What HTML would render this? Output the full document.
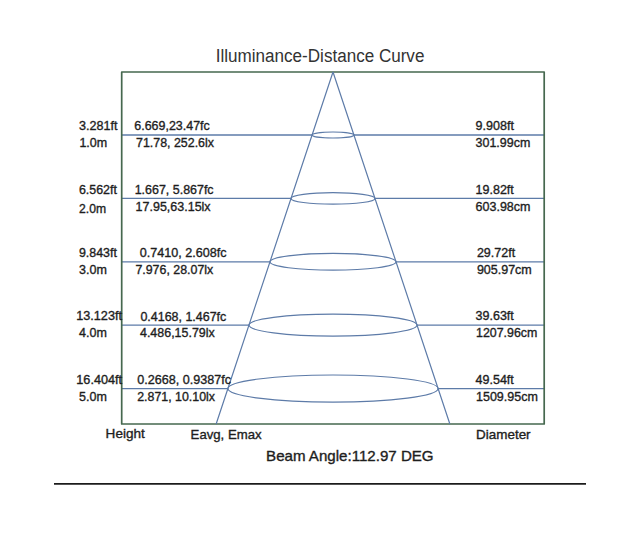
<!DOCTYPE html>
<html><head><meta charset="utf-8"><style>
html,body{margin:0;padding:0;background:#fff;width:640px;height:533px;overflow:hidden}
svg{display:block}
text{font-family:"Liberation Sans",sans-serif;stroke:#1e1e1e;stroke-width:0.35px}
</style></head><body>
<svg width="640" height="533" viewBox="0 0 640 533">
<rect x="0" y="0" width="640" height="533" fill="#fff"/>
<text x="215.8" y="61.9" font-size="18" fill="#333" style="stroke:none" textLength="208.6" lengthAdjust="spacingAndGlyphs">Illuminance-Distance Curve</text>
<line x1="122" y1="135.0" x2="312.08" y2="135.0" stroke="#5d7ba8" stroke-width="1.3"/>
<line x1="353.92" y1="135.0" x2="544" y2="135.0" stroke="#5d7ba8" stroke-width="1.3"/>
<line x1="122" y1="198.4" x2="291.04" y2="198.4" stroke="#5d7ba8" stroke-width="1.3"/>
<line x1="374.96" y1="198.4" x2="544" y2="198.4" stroke="#5d7ba8" stroke-width="1.3"/>
<line x1="122" y1="261.8" x2="269.99" y2="261.8" stroke="#5d7ba8" stroke-width="1.3"/>
<line x1="396.01" y1="261.8" x2="544" y2="261.8" stroke="#5d7ba8" stroke-width="1.3"/>
<line x1="122" y1="325.1" x2="248.97" y2="325.1" stroke="#5d7ba8" stroke-width="1.3"/>
<line x1="417.03" y1="325.1" x2="544" y2="325.1" stroke="#5d7ba8" stroke-width="1.3"/>
<line x1="122" y1="388.6" x2="227.89" y2="388.6" stroke="#5d7ba8" stroke-width="1.3"/>
<line x1="438.11" y1="388.6" x2="544" y2="388.6" stroke="#5d7ba8" stroke-width="1.3"/>
<ellipse cx="333" cy="135.0" rx="20.92" ry="3.0" fill="none" stroke="#5d7ba8" stroke-width="1.2"/>
<ellipse cx="333" cy="198.4" rx="41.96" ry="5.8" fill="none" stroke="#5d7ba8" stroke-width="1.2"/>
<ellipse cx="333" cy="261.8" rx="63.01" ry="8.4" fill="none" stroke="#5d7ba8" stroke-width="1.2"/>
<ellipse cx="333" cy="325.1" rx="84.03" ry="11.0" fill="none" stroke="#5d7ba8" stroke-width="1.2"/>
<ellipse cx="333" cy="388.6" rx="105.11" ry="13.6" fill="none" stroke="#5d7ba8" stroke-width="1.2"/>
<rect x="121.7" y="72" width="422.5" height="352" fill="none" stroke="#46684f" stroke-width="1.7" stroke-linejoin="round"/>
<polyline points="216.14,424 333,72 449.86,424" fill="none" stroke="#5d7ba8" stroke-width="1.2" stroke-linejoin="bevel"/>
<text x="79.0" y="129.95" font-size="12.5" fill="#1e1e1e" textLength="38.5" lengthAdjust="spacingAndGlyphs">3.281ft</text>
<text x="79.4" y="146.95" font-size="12.5" fill="#1e1e1e">1.0m</text>
<text x="134.3" y="129.65" font-size="12.5" fill="#1e1e1e" textLength="75.5" lengthAdjust="spacingAndGlyphs">6.669,23.47fc</text>
<text x="136.0" y="147.35" font-size="12.5" fill="#1e1e1e" textLength="78.0" lengthAdjust="spacingAndGlyphs">71.78, 252.6lx</text>
<text x="475.6" y="130.35" font-size="12.5" fill="#1e1e1e" textLength="38.3" lengthAdjust="spacingAndGlyphs">9.908ft</text>
<text x="475.6" y="147.25" font-size="12.5" fill="#1e1e1e" textLength="54.7" lengthAdjust="spacingAndGlyphs">301.99cm</text>
<text x="78.9" y="193.65" font-size="12.5" fill="#1e1e1e" textLength="38.0" lengthAdjust="spacingAndGlyphs">6.562ft</text>
<text x="79.1" y="213.35" font-size="12.5" fill="#1e1e1e" textLength="27.0" lengthAdjust="spacingAndGlyphs">2.0m</text>
<text x="134.7" y="193.75" font-size="12.5" fill="#1e1e1e" textLength="78.9" lengthAdjust="spacingAndGlyphs">1.667, 5.867fc</text>
<text x="135.6" y="210.55" font-size="12.5" fill="#1e1e1e" textLength="75.0" lengthAdjust="spacingAndGlyphs">17.95,63.15lx</text>
<text x="475.6" y="193.65" font-size="12.5" fill="#1e1e1e">19.82ft</text>
<text x="475.6" y="210.55" font-size="12.5" fill="#1e1e1e">603.98cm</text>
<text x="78.9" y="257.05" font-size="12.5" fill="#1e1e1e" textLength="38.0" lengthAdjust="spacingAndGlyphs">9.843ft</text>
<text x="79.1" y="273.95" font-size="12.5" fill="#1e1e1e">3.0m</text>
<text x="139.8" y="257.05" font-size="12.5" fill="#1e1e1e" textLength="86.8" lengthAdjust="spacingAndGlyphs">0.7410, 2.608fc</text>
<text x="135.4" y="273.95" font-size="12.5" fill="#1e1e1e" textLength="77.9" lengthAdjust="spacingAndGlyphs">7.976, 28.07lx</text>
<text x="476.9" y="257.05" font-size="12.5" fill="#1e1e1e">29.72ft</text>
<text x="476.9" y="273.95" font-size="12.5" fill="#1e1e1e">905.97cm</text>
<text x="76.2" y="320.35" font-size="12.5" fill="#1e1e1e" textLength="45.8" lengthAdjust="spacingAndGlyphs">13.123ft</text>
<text x="79.1" y="337.15" font-size="12.5" fill="#1e1e1e">4.0m</text>
<text x="140.4" y="320.65" font-size="12.5" fill="#1e1e1e" textLength="85.9" lengthAdjust="spacingAndGlyphs">0.4168, 1.467fc</text>
<text x="140.0" y="337.35" font-size="12.5" fill="#1e1e1e" textLength="74.7" lengthAdjust="spacingAndGlyphs">4.486,15.79lx</text>
<text x="475.6" y="320.35" font-size="12.5" fill="#1e1e1e">39.63ft</text>
<text x="476.0" y="337.35" font-size="12.5" fill="#1e1e1e" textLength="61.3" lengthAdjust="spacingAndGlyphs">1207.96cm</text>
<text x="76.3" y="383.85" font-size="12.5" fill="#1e1e1e" textLength="45.8" lengthAdjust="spacingAndGlyphs">16.404ft</text>
<text x="79.1" y="400.75" font-size="12.5" fill="#1e1e1e">5.0m</text>
<text x="137.2" y="383.75" font-size="12.5" fill="#1e1e1e" textLength="93.8" lengthAdjust="spacingAndGlyphs">0.2668, 0.9387fc</text>
<text x="137.2" y="400.95" font-size="12.5" fill="#1e1e1e" textLength="77.8" lengthAdjust="spacingAndGlyphs">2.871, 10.10lx</text>
<text x="475.6" y="383.75" font-size="12.5" fill="#1e1e1e">49.54ft</text>
<text x="476.0" y="400.85" font-size="12.5" fill="#1e1e1e">1509.95cm</text>
<text x="105.6" y="437.6" font-size="13" fill="#1e1e1e" textLength="39.2" lengthAdjust="spacingAndGlyphs">Height</text>
<text x="190.6" y="438.6" font-size="13" fill="#1e1e1e" textLength="71" lengthAdjust="spacingAndGlyphs">Eavg, Emax</text>
<text x="476.1" y="438.6" font-size="13" fill="#1e1e1e" textLength="54.5" lengthAdjust="spacingAndGlyphs">Diameter</text>
<text x="266.1" y="460.8" font-size="14.5" fill="#1e1e1e" textLength="167.5" lengthAdjust="spacingAndGlyphs">Beam Angle:112.97 DEG</text>
<line x1="54" y1="483.9" x2="586" y2="483.9" stroke="#1c1c1c" stroke-width="1.8"/>
</svg>
</body></html>
